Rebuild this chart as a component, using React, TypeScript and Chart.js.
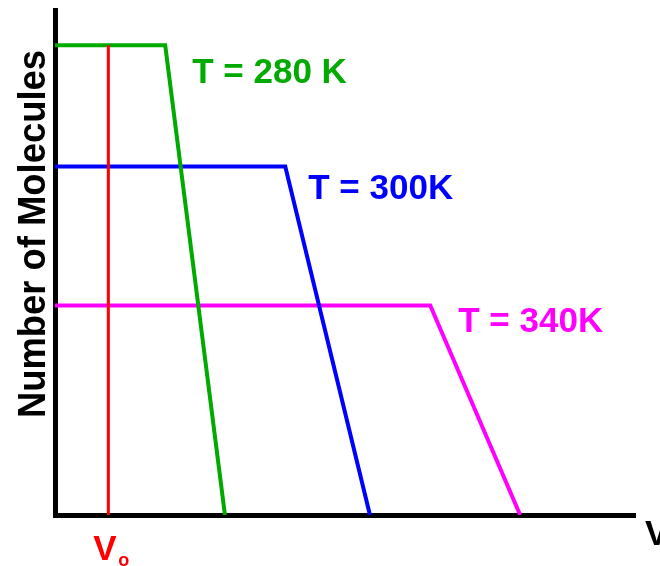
import { useEffect, useRef } from 'react';
import { Chart, registerables } from 'chart.js';

Chart.register(...registerables);

// Temperature curves: flat plateau up to a cutoff speed, then a linear drop to zero.
const seriesLabels = ['T = 280 K', 'T = 300K', 'T = 340K'];
const seriesColors = ['#00aa00', '#0000ff', '#ff00ff'];
const plateauCounts = [9.3, 6.9, 4.15];
const cutoffSpeeds = [1.9, 3.97, 6.47];
const maxSpeeds = [2.93, 5.43, 8.02];

// Reference speed v₀ marker
const referenceSpeed = 0.92;
const referenceTop = 9.3;
const referenceColor = '#ff0000';

const yAxisTitle = 'Number of Molecules';
const xAxisTitle = 'V';

const FONT = '"Liberation Sans", Arial, Helvetica, sans-serif';

// Pixel offsets of each curve label from its cutoff corner
const labelShift: [number, number][] = [
  [27, 38],
  [23, 32],
  [28, 27],
];

const annotations = {
  id: 'annotations',
  afterDatasetsDraw(chart: Chart) {
    const { ctx, chartArea } = chart;
    const x = chart.scales.x;
    const y = chart.scales.y;
    ctx.save();
    ctx.textBaseline = 'alphabetic';
    ctx.textAlign = 'left';

    // Curve labels
    ctx.font = `bold 35px ${FONT}`;
    seriesLabels.forEach((label, i) => {
      const px = x.getPixelForValue(cutoffSpeeds[i]) + labelShift[i][0];
      const py = y.getPixelForValue(plateauCounts[i]) + labelShift[i][1];
      ctx.fillStyle = seriesColors[i];
      ctx.fillText(label, px, py);
    });

    // v₀ label under the red marker
    const vx = x.getPixelForValue(referenceSpeed);
    ctx.fillStyle = referenceColor;
    ctx.font = `bold 35px ${FONT}`;
    ctx.fillText('V', vx - 15, chartArea.bottom + 45);
    ctx.font = `bold 18px ${FONT}`;
    ctx.fillText('o', vx + 10, chartArea.bottom + 51);

    // Speed axis title at the end of the x axis
    ctx.fillStyle = '#000000';
    ctx.font = `bold 35px ${FONT}`;
    ctx.fillText(xAxisTitle, chartArea.right + 10, chartArea.bottom + 30);

    // Vertical axis title
    ctx.translate(45, 234);
    ctx.rotate(-Math.PI / 2);
    ctx.textAlign = 'center';
    ctx.font = `bold 38px ${FONT}`;
    ctx.fillText(yAxisTitle, 0, 0, 368);
    ctx.restore();
  },
};

export default function App() {
  const canvasRef = useRef<HTMLCanvasElement | null>(null);

  useEffect(() => {
    const canvas = canvasRef.current;
    if (!canvas) return;

    const curves = seriesLabels.map((label, i) => ({
      label,
      data: [
        { x: 0, y: plateauCounts[i] },
        { x: cutoffSpeeds[i], y: plateauCounts[i] },
        { x: maxSpeeds[i], y: 0 },
      ],
      borderColor: seriesColors[i],
      backgroundColor: seriesColors[i],
      borderWidth: 4,
      showLine: true,
      pointRadius: 0,
      tension: 0,
    }));

    const marker = {
      label: 'v0',
      data: [
        { x: referenceSpeed, y: 0 },
        { x: referenceSpeed, y: referenceTop },
      ],
      borderColor: referenceColor,
      backgroundColor: referenceColor,
      borderWidth: 3,
      showLine: true,
      pointRadius: 0,
      tension: 0,
    };

    const axisStyle = {
      type: 'linear' as const,
      min: 0,
      max: 10,
      ticks: { display: false },
      grid: { display: false, drawTicks: false },
      border: { display: true, color: '#000000', width: 5 },
    };

    const chart = new Chart(canvas, {
      type: 'scatter',
      data: { datasets: [marker, ...curves] },
      options: {
        animation: false,
        responsive: false,
        layout: { padding: { left: 55, top: 10, right: 25, bottom: 51 } },
        plugins: {
          legend: { display: false },
          tooltip: { enabled: false },
        },
        scales: {
          x: axisStyle,
          y: axisStyle,
        },
      },
      plugins: [annotations],
    });

    return () => chart.destroy();
  }, []);

  return (
    <div style={{ position: 'absolute', left: 0, top: 0, width: 660, height: 566, background: '#ffffff' }}>
      <canvas ref={canvasRef} width={660} height={566} />
    </div>
  );
}
